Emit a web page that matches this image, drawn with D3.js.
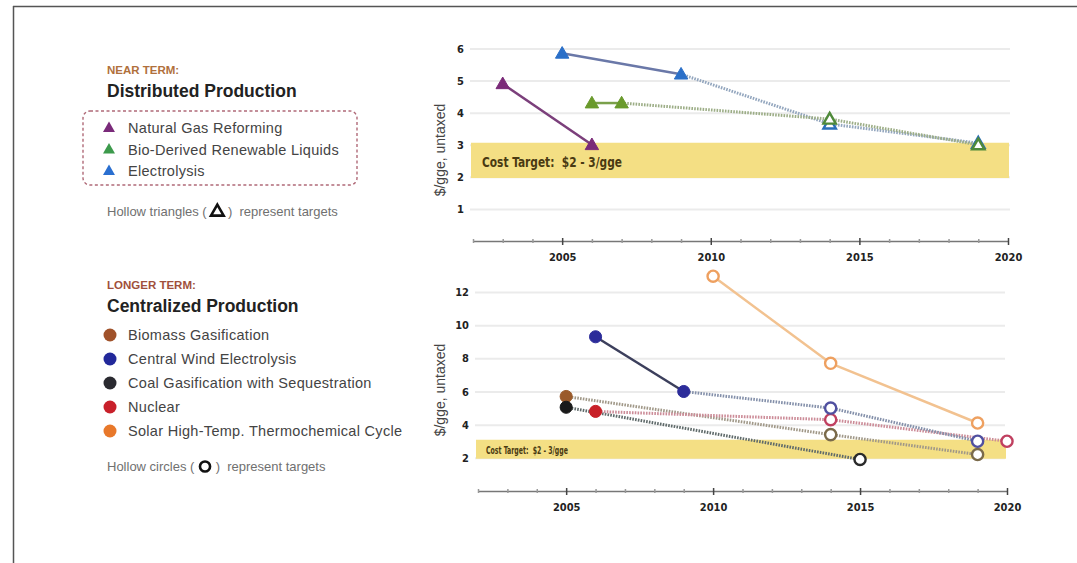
<!DOCTYPE html>
<html>
<head>
<meta charset="utf-8">
<script src="https://cdn.jsdelivr.net/npm/d3@7"></script>
<style>
  html, body { margin: 0; padding: 0; background: #fff; }
  svg { display: block; }
</style>
</head>
<body>
<svg id="chart" width="1077" height="563"></svg>
<script>
// ---- Data -------------------------------------------------------------
const yearDomain = [2002, 2020];
const yearLabels = [2005, 2010, 2015, 2020];

// Near term: distributed production ($/gge, untaxed)
const nearTicks = [1, 2, 3, 4, 5, 6];
const ngYears = [2003, 2006];
const ngCost = [4.9, 3.0];
const ngTarget = [false, false];
const bioYears = [2006, 2007, 2014, 2019];
const bioCost = [4.3, 4.3, 3.8, 3.0];
const bioTarget = [false, false, true, true];
const elYears = [2005, 2009, 2014, 2019];
const elCost = [5.85, 5.2, 3.65, 3.05];
const elTarget = [false, false, true, true];

// Longer term: centralized production ($/gge, untaxed)
const longTicks = [2, 4, 6, 8, 10, 12];
const biomassYears = [2005, 2014, 2019];
const biomassCost = [5.7, 3.4, 2.2];
const biomassTarget = [false, true, true];
const windYears = [2006, 2009, 2014, 2019];
const windCost = [9.3, 6.0, 5.0, 3.0];
const windTarget = [false, false, true, true];
const coalYears = [2005, 2015];
const coalCost = [5.05, 1.9];
const coalTarget = [false, true];
const nuclearYears = [2006, 2014, 2020];
const nuclearCost = [4.8, 4.3, 3.0];
const nuclearTarget = [false, true, true];
const solarYears = [2010, 2014, 2019];
const solarCost = [12.95, 7.7, 4.1];
const solarTarget = [true, true, true];

// Cost target band ($/gge)
const targetLow = 2;
const targetHigh = 3;
const targetLabel = "Cost Target:  $2 - 3/gge";

const nearNames = ["Natural Gas Reforming", "Bio-Derived Renewable Liquids", "Electrolysis"];
const longNames = ["Biomass Gasification", "Central Wind Electrolysis",
  "Coal Gasification with Sequestration", "Nuclear", "Solar High-Temp. Thermochemical Cycle"];

// ---- Styles ---------------------------------------------------------------
const nearStyle = {
  "Natural Gas Reforming": { legend: "#7a2a7a", mark: "#7a2a78", target: "#7a2a78", solid: "#7b3f7b", dotted: "#9a6a9a" },
  "Bio-Derived Renewable Liquids": { legend: "#3c9a4c", mark: "#6a9a2c", target: "#4f8a3a", solid: "#7aa04a", dotted: "#9cad86" },
  "Electrolysis": { legend: "#2a6fd0", mark: "#2a6fc8", target: "#2a6fb8", solid: "#6a78a8", dotted: "#93a6be" }
};
const longStyle = {
  "Biomass Gasification": { legend: "#a0522a", mark: "#9a5a2a", target: "#7a6a4a", solid: "#9a7a60", dotted: "#a09888" },
  "Central Wind Electrolysis": { legend: "#22289a", mark: "#2c2c9a", target: "#5050a0", solid: "#3c3f5c", dotted: "#8490aa" },
  "Coal Gasification with Sequestration": { legend: "#2a2a30", mark: "#1a1a1a", target: "#2a2a2a", solid: "#444", dotted: "#5f6a6a" },
  "Nuclear": { legend: "#c8202a", mark: "#c82028", target: "#c04060", solid: "#c06070", dotted: "#cc8c98" },
  "Solar High-Temp. Thermochemical Cycle": { legend: "#e8782a", mark: "#e8782a", target: "#eea060", solid: "#f2c290", dotted: "#f2c290" }
};

const svg = d3.select("#chart");

// frame lines
svg.append("line").attr("x1", 13).attr("x2", 1077).attr("y1", 6.5).attr("y2", 6.5)
  .attr("stroke", "#555").attr("stroke-width", 1.5);
svg.append("line").attr("x1", 13.5).attr("x2", 13.5).attr("y1", 6).attr("y2", 563)
  .attr("stroke", "#555").attr("stroke-width", 1.5);

const tickFont = "'Liberation Sans Narrow', 'Arial Narrow', 'DejaVu Sans Condensed', sans-serif";
const textFont = "'Liberation Sans', Arial, sans-serif";

// ---- Panel builder -------------------------------------------------------
function panel(cfg) {
  const x = d3.scaleLinear().domain(yearDomain).range(cfg.xRange);
  const y = d3.scaleLinear().domain(cfg.yDomain).range(cfg.yRange);
  const g = svg.append("g");

  // gridlines + y labels
  const yAxis = d3.axisLeft(y).tickValues(cfg.yTicks).tickFormat(d3.format("d"))
    .tickSize(-(cfg.gridEnd - cfg.xRange[0] + 3)).tickPadding(6);
  const ya = g.append("g").attr("transform", `translate(${cfg.xRange[0] - 3},0)`).call(yAxis);
  ya.select(".domain").remove();
  ya.selectAll(".tick line").attr("stroke", "#ebebeb").attr("stroke-width", 2);
  ya.selectAll(".tick text").attr("font-family", tickFont).attr("font-weight", "bold")
    .attr("font-size", 11).attr("fill", "#222");

  // cost target band
  g.append("rect")
    .attr("x", cfg.xRange[0] - 2)
    .attr("width", cfg.bandEnd - cfg.xRange[0] + 2)
    .attr("y", y(targetHigh) - cfg.bandPad)
    .attr("height", y(targetLow) - y(targetHigh) + cfg.bandPad * 1.6)
    .attr("fill", "#f4df84");
  g.append("text")
    .attr("x", cfg.xRange[0] + cfg.labelDx)
    .attr("y", (y(targetLow) + y(targetHigh)) / 2 + cfg.labelDy)
    .attr("font-family", "'DejaVu Sans Condensed', 'DejaVu Sans', sans-serif")
    .attr("font-weight", "bold")
    .attr("font-size", cfg.labelSize)
    .attr("textLength", cfg.labelWidth)
    .attr("lengthAdjust", "spacingAndGlyphs")
    .attr("fill", "#4a3a12")
    .style("white-space", "pre")
    .text(targetLabel);

  // x axis
  const years = d3.range(yearDomain[0], yearDomain[1] + 1);
  const xAxis = d3.axisBottom(x).tickValues(years)
    .tickFormat(d => yearLabels.includes(d) ? d : "").tickSize(0).tickPadding(12);
  const xa = g.append("g").attr("transform", `translate(0,${cfg.axisY})`).call(xAxis);
  xa.select(".domain").attr("stroke", "#777").attr("stroke-width", 1.5);
  xa.selectAll(".tick line")
    .attr("y1", d => yearLabels.includes(d) ? -3 : -2)
    .attr("y2", d => yearLabels.includes(d) ? 4 : 2)
    .attr("stroke", d => yearLabels.includes(d) ? "#444" : "#999")
    .attr("stroke-width", 1.5);
  xa.selectAll(".tick text").attr("font-family", tickFont).attr("font-weight", "bold")
    .attr("font-size", 11).attr("fill", "#222");

  // y axis title
  g.append("text")
    .attr("transform", `translate(${cfg.titleX},${cfg.titleY}) rotate(-90)`)
    .attr("text-anchor", "middle")
    .attr("font-family", textFont)
    .attr("font-size", 14)
    .attr("fill", "#444")
    .text("$/gge, untaxed");

  return { g, x, y };
}

function drawSeries(p, series, styles, shape, size) {
  const lineG = p.g.append("g");
  const markG = p.g.append("g");
  series.forEach(s => {
    const st = styles[s.name];
    const pts = s.years.map((yr, i) => ({ yr, v: s.cost[i], target: s.target[i] }));
    for (let i = 1; i < pts.length; i++) {
      const a = pts[i - 1], b = pts[i];
      const dotted = b.target && !s.allTargets;
      lineG.append("path")
        .attr("d", d3.line().x(d => p.x(d.yr)).y(d => p.y(d.v))([a, b]))
        .attr("fill", "none")
        .attr("stroke", dotted ? st.dotted : st.solid)
        .attr("stroke-width", dotted ? 3 : 2.5)
        .attr("stroke-dasharray", dotted ? "1.6,1.2" : null);
    }
    pts.forEach(d => {
      const m = markG.append("path")
        .attr("transform", `translate(${p.x(d.yr)},${p.y(d.v) + (shape === d3.symbolTriangle ? 1 : 0)})`)
        .attr("d", d3.symbol(shape).size(d.target ? size * 0.85 : size)());
      if (d.target) {
        m.attr("fill", "#fff").attr("stroke", st.target).attr("stroke-width", 2.4);
      } else {
        m.attr("fill", st.mark).attr("stroke", st.mark).attr("stroke-width", 1);
      }
    });
  });
}

// ---- Upper panel: near term -----------------------------------------------
const nearPanel = panel({
  xRange: [473, 1008], yDomain: [0, 6], yRange: [241, 48.5], yTicks: nearTicks,
  gridEnd: 1010, bandEnd: 1009, axisY: 241, bandPad: 2,
  labelDx: 9, labelDy: 6, labelSize: 14, labelWidth: 140,
  titleX: 445, titleY: 150
});
drawSeries(nearPanel, [
  { name: "Natural Gas Reforming", years: ngYears, cost: ngCost, target: ngTarget },
  { name: "Electrolysis", years: elYears, cost: elCost, target: elTarget },
  { name: "Bio-Derived Renewable Liquids", years: bioYears, cost: bioCost, target: bioTarget }
], nearStyle, d3.symbolTriangle, 78);

// ---- Lower panel: longer term -------------------------------------------
const longPanel = panel({
  xRange: [478, 1007], yDomain: [0, 12], yRange: [491, 292], yTicks: longTicks,
  gridEnd: 1005, bandEnd: 1006, axisY: 491, bandPad: 1.5,
  labelDx: 8, labelDy: 4, labelSize: 10.5, labelWidth: 82,
  titleX: 445, titleY: 390
});
drawSeries(longPanel, [
  { name: "Biomass Gasification", years: biomassYears, cost: biomassCost, target: biomassTarget },
  { name: "Coal Gasification with Sequestration", years: coalYears, cost: coalCost, target: coalTarget },
  { name: "Nuclear", years: nuclearYears, cost: nuclearCost, target: nuclearTarget },
  { name: "Central Wind Electrolysis", years: windYears, cost: windCost, target: windTarget },
  { name: "Solar High-Temp. Thermochemical Cycle", years: solarYears, cost: solarCost, target: solarTarget, allTargets: true }
], longStyle, d3.symbolCircle, 115);

// ---- Legends -------------------------------------------------------------
const leg = svg.append("g").attr("font-family", textFont);

function heading(y1, y2, kicker, kickerColor, title) {
  leg.append("text").attr("x", 107).attr("y", y1).attr("font-size", 11.5)
    .attr("font-weight", "bold").attr("fill", kickerColor).text(kicker);
  leg.append("text").attr("x", 107).attr("y", y2).attr("font-size", 17.5)
    .attr("font-weight", "bold").attr("fill", "#222").text(title);
}

function note(y, before, shape, after) {
  const t1 = leg.append("text").attr("x", 107).attr("y", y).attr("font-size", 13)
    .style("white-space", "pre").attr("fill", "#707070").text(before);
  const w = t1.node().getComputedTextLength();
  const cx = 107 + w + 7;
  leg.append("path")
    .attr("transform", `translate(${cx},${y - 4.5 + (shape === d3.symbolTriangle ? 0.5 : 0)})`)
    .attr("d", d3.symbol(shape).size(shape === d3.symbolTriangle ? 70 : 80)())
    .attr("fill", "#fff").attr("stroke", "#111").attr("stroke-width", 2.6);
  leg.append("text").attr("x", cx + 7).attr("y", y).attr("font-size", 13)
    .style("white-space", "pre").attr("fill", "#707070").text(after);
}

heading(74, 97, "NEAR TERM:", "#b0703c", "Distributed Production");
leg.append("rect").attr("x", 83).attr("y", 111).attr("width", 274).attr("height", 74)
  .attr("rx", 7).attr("fill", "none").attr("stroke", "#b06a78")
  .attr("stroke-width", 1.4).attr("stroke-dasharray", "3,2.5");
const nearRowY = d3.scalePoint().domain(nearNames).range([128, 171]);
nearNames.forEach(n => {
  leg.append("path").attr("transform", `translate(109,${nearRowY(n) + 0.5})`)
    .attr("d", d3.symbol(d3.symbolTriangle).size(62)()).attr("fill", nearStyle[n].legend);
  leg.append("text").attr("x", 128).attr("y", nearRowY(n) + 5).attr("font-size", 14.5)
    .attr("letter-spacing", 0.3).attr("fill", "#444").text(n);
});
note(216, "Hollow triangles ( ", d3.symbolTriangle, " )  represent targets");

heading(289, 312, "LONGER TERM:", "#a0503c", "Centralized Production");
const longRowY = d3.scalePoint().domain(longNames).range([335, 431]);
longNames.forEach(n => {
  leg.append("circle").attr("cx", 110).attr("cy", longRowY(n)).attr("r", 6.5)
    .attr("fill", longStyle[n].legend);
  leg.append("text").attr("x", 128).attr("y", longRowY(n) + 5).attr("font-size", 14.5)
    .attr("letter-spacing", 0.3).attr("fill", "#444").text(n);
});
note(471, "Hollow circles ( ", d3.symbolCircle, " )  represent targets");
</script>
</body>
</html>
